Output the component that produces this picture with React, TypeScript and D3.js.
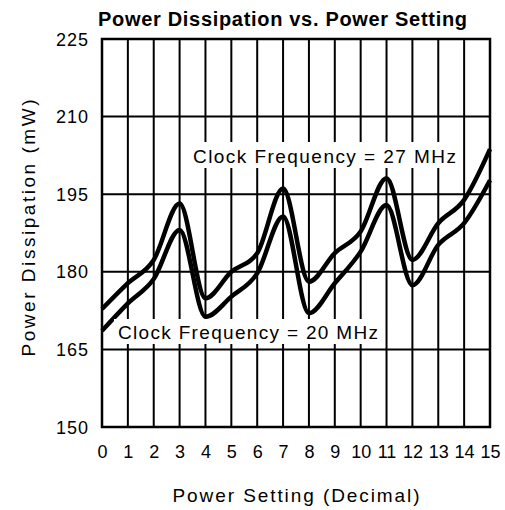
import React from "react";
import * as d3 from "d3";

const settings = [0, 1, 2, 3, 4, 5, 6, 7, 8, 9, 10, 11, 12, 13, 14, 15];
const p27 = [172.8, 177.8, 182.3, 193.2, 174.9, 180.0, 183.6, 196.1, 178.1, 183.6, 187.8, 198.1, 182.3, 189.4, 193.9, 203.7];
const p20 = [168.6, 173.9, 178.6, 188.1, 171.3, 175.2, 179.7, 190.7, 172.0, 177.8, 183.9, 192.9, 177.4, 185.2, 189.4, 197.7];
const yTicks = [150, 165, 180, 195, 210, 225];
const title = "Power Dissipation vs. Power Setting";
const xTitle = "Power Setting (Decimal)";
const yTitle = "Power Dissipation (mW)";
const label27 = "Clock Frequency = 27 MHz";
const label20 = "Clock Frequency = 20 MHz";

const FONT = "'Liberation Sans', Arial, sans-serif";

export default function App() {
  const x = d3.scaleLinear().domain([0, 15]).range([102, 490]);
  const y = d3.scaleLinear().domain([150, 225]).range([427, 39]);
  const line = d3
    .line<number>()
    .x((_, i) => x(settings[i]))
    .y((d) => y(d))
    .curve(d3.curveMonotoneX);

  return (
    <svg width={505} height={510} style={{ position: "absolute", left: 0, top: 0, background: "#fff" }}>
      <rect x={0} y={0} width={505} height={510} fill="#fff" />
      {settings.map((s) => (
        <line key={"v" + s} x1={x(s)} x2={x(s)} y1={y(150)} y2={y(225)} stroke="#000" strokeWidth={2} />
      ))}
      {yTicks.map((t) => (
        <line key={"h" + t} x1={x(0)} x2={x(15)} y1={y(t)} y2={y(t)} stroke="#000" strokeWidth={2} />
      ))}
      <rect x={x(0)} y={y(225)} width={x(15) - x(0)} height={y(150) - y(225)} fill="none" stroke="#000" strokeWidth={2.5} />
      <path d={line(p27) || ""} fill="none" stroke="#000" strokeWidth={4.5} strokeLinejoin="round" />
      <path d={line(p20) || ""} fill="none" stroke="#000" strokeWidth={4.5} strokeLinejoin="round" />

      <rect x={185} y={142} width={276} height={26} fill="#fff" />
      <text x={193} y={163} fontFamily={FONT} fontSize={19} textLength={263} lengthAdjust="spacing">{label27}</text>
      <rect x={114} y={319} width={268} height={25} fill="#fff" />
      <text x={118} y={338.5} fontFamily={FONT} fontSize={19} textLength={260} lengthAdjust="spacing">{label20}</text>

      {yTicks.map((t) => (
        <text key={"yl" + t} x={89} y={y(t) + 6.5} textAnchor="end" fontFamily={FONT} fontSize={18} letterSpacing={1}>
          {t}
        </text>
      ))}
      {settings.map((s) => (
        <text key={"xl" + s} x={x(s) + 0.5} y={458} textAnchor="middle" fontFamily={FONT} fontSize={18}>
          {s}
        </text>
      ))}
      <text x={296} y={502} textAnchor="middle" fontFamily={FONT} fontSize={19} textLength={247} lengthAdjust="spacing">{xTitle}</text>
      <text transform="translate(35,228) rotate(-90)" textAnchor="middle" fontFamily={FONT} fontSize={19} textLength={257} lengthAdjust="spacing">{yTitle}</text>
      <text x={282.5} y={25.5} textAnchor="middle" fontFamily={FONT} fontSize={20} fontWeight="bold" textLength={369} lengthAdjust="spacing">{title}</text>
    </svg>
  );
}
